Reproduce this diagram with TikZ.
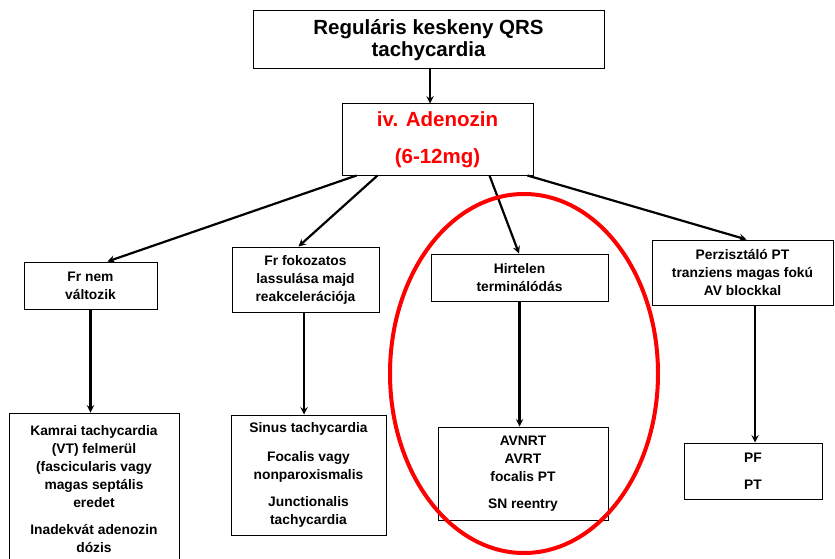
\documentclass[tikz,border=0pt]{standalone}
\usepackage{fontspec}
\setmainfont{Liberation Sans}
\usepackage{tikz}
\definecolor{adred}{RGB}{255,0,0}

\begin{document}
\begin{tikzpicture}[x=1pt,y=-1pt,>=stealth,
  box/.style={draw,line width=1pt,fill=white,align=center,inner sep=2pt,font=\bfseries\fontsize{13.8}{18}\selectfont},
  conn/.style={->,line width=2.2pt}]
\useasboundingbox (0,0) rectangle (835,559);
\clip (0,0) rectangle (835,559);
\node[box,minimum width=351,minimum height=58,font=\bfseries\fontsize{20.5}{22}\selectfont] (top) at (428.5,40) {Reguláris keskeny QRS\\tachycardia};
\node[box,minimum width=191,minimum height=71,text=adred,font=\bfseries\fontsize{20.5}{24}\selectfont] (adeno) at (437.5,139.5) {iv. Adenozin\\[13pt](6-12mg)};
\node[box,minimum width=133,minimum height=47] (frnem) at (90.5,285.5) {Fr nem\\változik};
\node[box,minimum width=147,minimum height=65] (frfok) at (305.5,279.5) {Fr fokozatos\\lassulása majd\\reakcelerációja};
\node[box,minimum width=177,minimum height=47] (hirt) at (519.5,277.5) {Hirtelen\\terminálódás};
\node[box,minimum width=181,minimum height=65] (perz) at (742.5,272.5) {Perzisztáló PT\\tranziens magas fokú\\AV blockkal};
\node[box,minimum width=170,minimum height=152] (kamrai) at (94,489) {Kamrai tachycardia\\(VT) felmerül\\(fascicularis vagy\\magas septális\\eredet\\[9pt]Inadekvát adenozin\\dózis};
\node[box,minimum width=155,minimum height=120] (sinus) at (308.5,475) {Sinus tachycardia\\[11pt]Focalis vagy\\nonparoxismalis\\[9pt]Junctionalis\\tachycardia};
\node[box,minimum width=170,minimum height=93] (avnrt) at (523,473.5) {AVNRT\\AVRT\\focalis PT\\[9pt]SN reentry};
\node[box,minimum width=138,minimum height=56] (pf) at (753,471) {PF\\[9pt]PT};
% arrows
\draw[conn] ([xshift=1.5]top.south) -- ([xshift=1.5]top.south |- adeno.north);
\draw[conn] ([xshift=15]adeno.south west) -- ([xshift=17]frnem.north);
\draw[conn] ([xshift=36]adeno.south west) -- ([xshift=-7]frfok.north);
\draw[conn] ([xshift=148]adeno.south west) -- ([xshift=-0.5]hirt.north);
\draw[conn] ([xshift=-6]adeno.south east) -- ([xshift=4]perz.north);
\draw[conn] (frnem.south) -- (frnem.south |- kamrai.north);
\draw[conn] ([xshift=-1.5]frfok.south) -- ([xshift=-1.5]frfok.south |- sinus.north);
\draw[conn] (hirt.south) -- (hirt.south |- avnrt.north);
\draw[conn] ([xshift=2]pf.north |- perz.south) -- ([xshift=2]pf.north);
% red ring
\draw[adred,line width=4pt] (524,373.5) ellipse (134 and 179.5);
\end{tikzpicture}
\end{document}
